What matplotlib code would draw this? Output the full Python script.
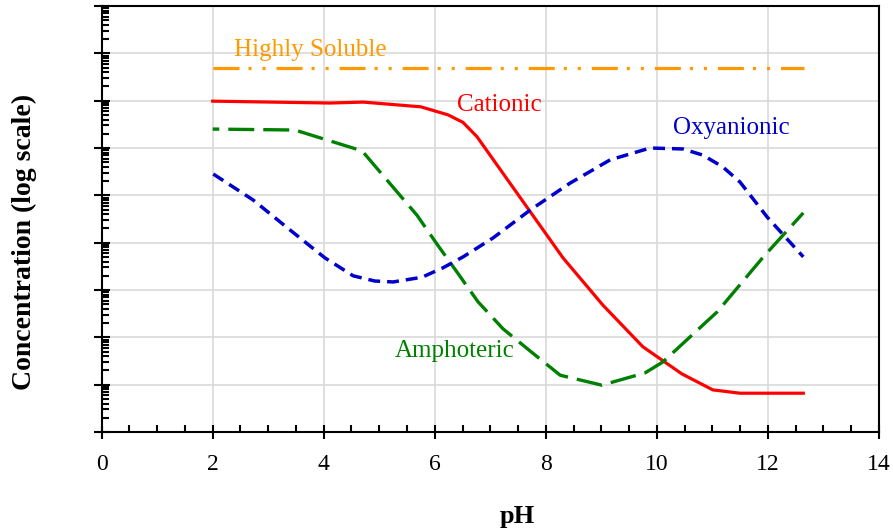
import matplotlib
matplotlib.use("Agg")
import matplotlib.pyplot as plt
import numpy as np
from matplotlib.ticker import LogLocator, MultipleLocator, NullFormatter

plt.rcParams['font.family'] = ['Liberation Serif', 'DejaVu Serif']
plt.rcParams['lines.scale_dashes'] = False

# pH values and log10(concentration) for each species
soluble_ph = [2.0, 12.65]
soluble_log = [7.69, 7.69]

cationic_ph = [2.0, 4.11, 4.71, 5.75, 6.24, 6.51, 6.76, 8.31, 9.03, 9.75, 10.45, 11.01, 11.5, 12.64]
cationic_log = [6.99, 6.95, 6.97, 6.87, 6.70, 6.54, 6.24, 3.68, 2.68, 1.80, 1.23, 0.89, 0.82, 0.82]

ampho_ph = [2.0, 3.48, 4.69, 5.68, 6.04, 6.40, 6.78, 7.23, 7.72, 8.26, 9.01, 9.79, 10.11, 11.09, 11.92, 12.64]
ampho_log = [6.40, 6.38, 5.94, 4.58, 3.97, 3.38, 2.75, 2.18, 1.71, 1.20, 0.99, 1.25, 1.48, 2.54, 3.70, 4.63]

oxy_ph = [2.01, 2.73, 3.37, 4.02, 4.53, 4.92, 5.25, 5.77, 6.15, 6.51, 7.05, 7.72, 8.44, 9.16,
          9.88, 10.47, 10.83, 11.19, 11.50, 11.99, 12.64]
oxy_log = [5.45, 4.90, 4.29, 3.68, 3.30, 3.19, 3.17, 3.27, 3.47, 3.70, 4.10, 4.69, 5.26, 5.75,
           6.00, 5.98, 5.85, 5.60, 5.28, 4.54, 3.70]

x_ticks = [0, 2, 4, 6, 8, 10, 12, 14]

orange = '#FF9900'
red = '#FF0000'
green = '#008000'
blue = '#0000CC'

fig = plt.figure(figsize=(8.93, 5.31), dpi=100)
ax = fig.add_axes([0.1139, 0.1864, 0.8702, 0.8023])

ax.plot(soluble_ph, 10 ** np.array(soluble_log), color=orange, lw=2.3,
        linestyle=(0, (18.7, 6.5, 2.2, 7.9, 2.2, 7.9)))
ax.plot(cationic_ph, 10 ** np.array(cationic_log), color=red, lw=2.3)
ax.plot(ampho_ph, 10 ** np.array(ampho_log), color=green, lw=2.4,
        linestyle=(14, (18.7, 6.5)))
ax.plot(oxy_ph, 10 ** np.array(oxy_log), color=blue, lw=2.5,
        linestyle=(0, (8.6, 5.0)))

# series labels
ax.text(3.75, 10 ** 7.94, 'Highly Soluble', color=orange, fontsize=18, ha='center', va='baseline')
ax.text(7.17, 10 ** 6.78, 'Cationic', color=red, fontsize=18, ha='center', va='baseline')
ax.text(11.35, 10 ** 6.30, 'Oxyanionic', color=blue, fontsize=18, ha='center', va='baseline')
ax.text(6.36, 10 ** 1.58, 'Amphoteric', color=green, fontsize=18, ha='center', va='baseline')

ax.set_yscale('log')
ax.set_xlim(0, 14)
ax.set_ylim(1, 1e9)

ax.set_xticks(x_ticks)
ax.xaxis.set_minor_locator(MultipleLocator(0.5))
ax.yaxis.set_major_locator(LogLocator(base=10, numticks=20))
ax.yaxis.set_minor_locator(LogLocator(base=10, subs=np.arange(2, 10), numticks=20))
ax.yaxis.set_major_formatter(NullFormatter())
ax.yaxis.set_minor_formatter(NullFormatter())

ax.tick_params(axis='x', which='major', direction='inout', length=10, width=1.5,
               labelsize=17, pad=11)
ax.tick_params(axis='x', which='minor', direction='in', length=5, width=1.5)
ax.tick_params(axis='y', which='major', direction='inout', length=12, width=1.5)
ax.tick_params(axis='y', which='minor', direction='in', length=5, width=1.5)

ax.grid(True, which='major', color='#d9d9d9', lw=1.2)
ax.set_axisbelow(True)
for s in ax.spines.values():
    s.set_linewidth(1.5)

fig.text(0.579, 0.015, 'pH', fontsize=19, fontweight='bold', ha='center', va='baseline')
fig.text(0.027, 0.545, 'Concentration (log scale)', fontsize=20, fontweight='bold',
         rotation=90, ha='center', va='center')

fig.savefig('out.png', dpi=100)
